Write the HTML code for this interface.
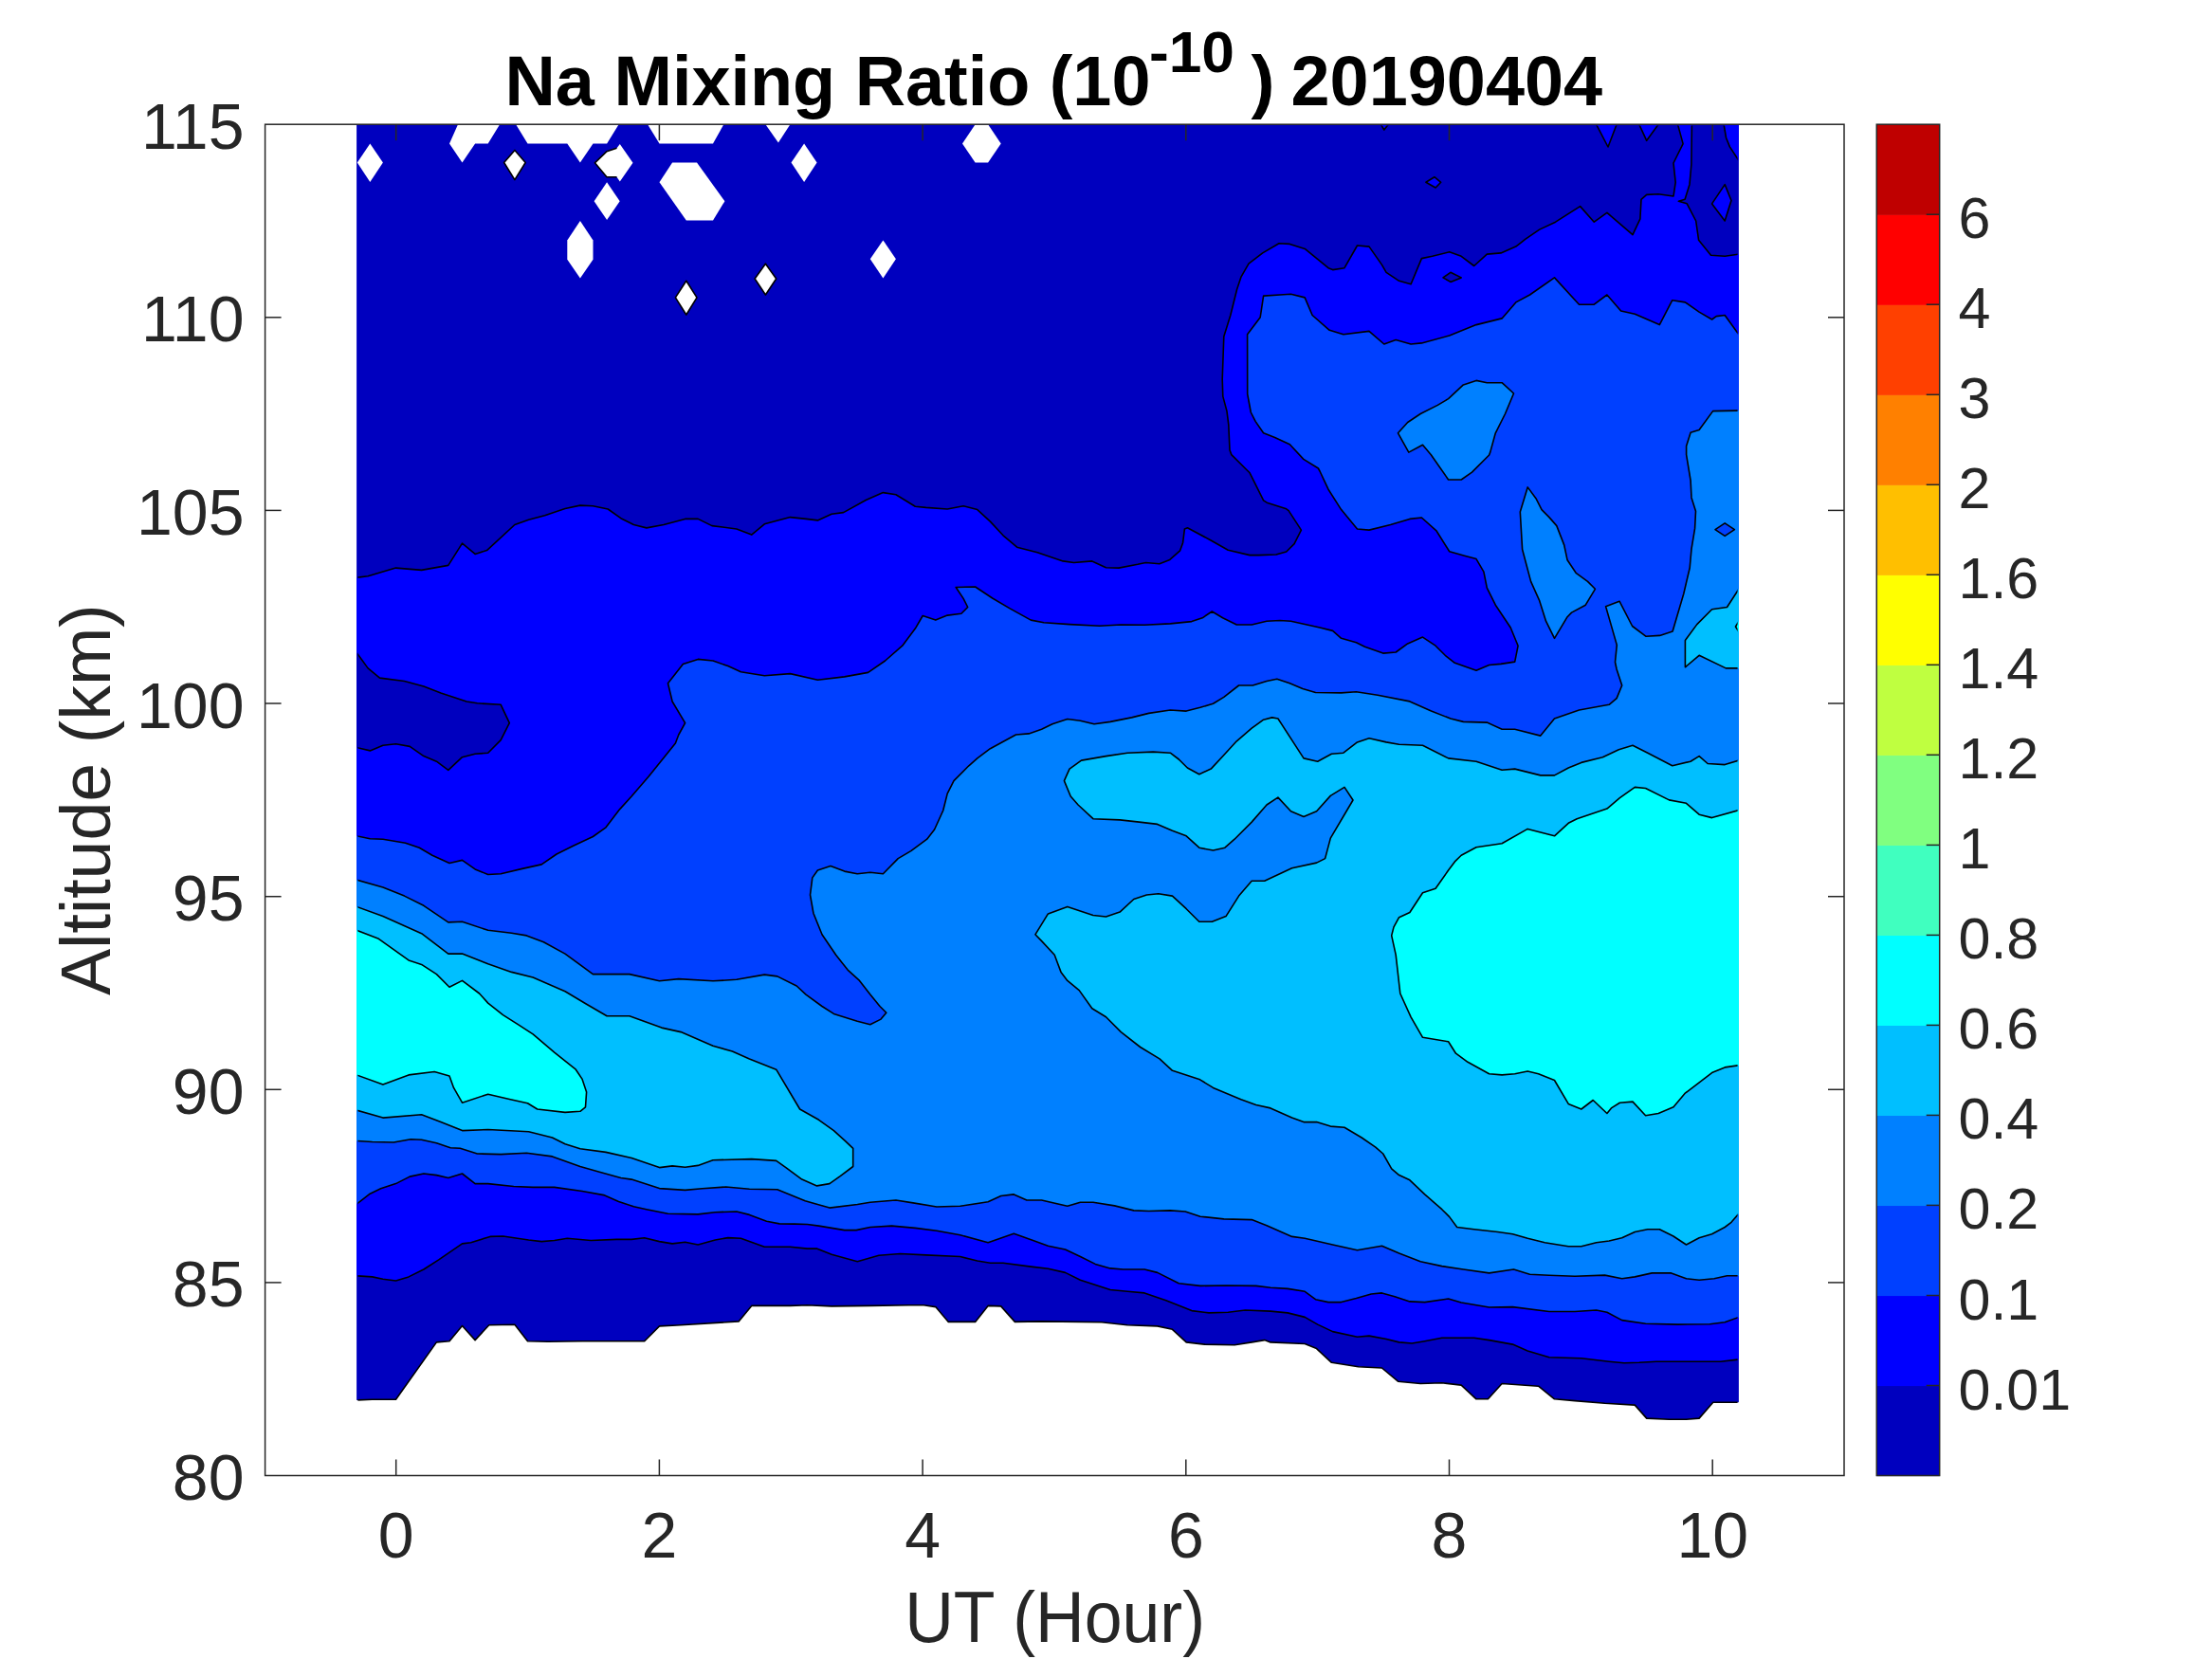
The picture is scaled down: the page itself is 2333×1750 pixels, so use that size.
<!DOCTYPE html>
<html><head><meta charset="utf-8"><style>
html,body{margin:0;padding:0;background:#fff;overflow:hidden;}
svg{display:block;}
text{font-family:"Liberation Sans",sans-serif;}
.tk{font-size:68px;fill:#262626;}
.lb{font-size:75px;fill:#262626;}
.tt{font-size:75px;font-weight:bold;fill:#000;}
.cb{font-size:61px;fill:#262626;}
.sup{font-size:58px;}
</style></head><body>
<svg width="2333" height="1750" viewBox="0 0 2333 1750">
<rect x="0" y="0" width="2333" height="1750" fill="#ffffff"/>
<defs><clipPath id="dc"><rect x="377.4" y="132.5" width="1455.2" height="1500"/></clipPath></defs>
<polygon points="376.1,131.2 1833.9,131.2 1833.9,1479.2 1806.8,1479.2 1792.1,1496.1 1778.5,1497.2 1760.4,1497.2 1736.7,1496.1 1724.3,1482.1 1692.6,1480.3 1661.0,1477.6 1639.5,1475.8 1622.6,1462.2 1584.1,1459.5 1569.4,1475.8 1557.0,1475.8 1541.2,1461.1 1520.8,1458.8 1498.2,1459.5 1474.5,1457.2 1457.5,1443.0 1432.7,1441.8 1404.4,1437.3 1388.6,1422.6 1376.2,1417.5 1340.0,1415.9 1333.7,1413.6 1320.2,1415.9 1302.1,1418.8 1270.4,1418.1 1251.2,1415.9 1236.5,1402.3 1220.7,1398.9 1189.1,1397.8 1161.9,1394.8 1098.6,1393.9 1070.4,1394.4 1055.7,1377.9 1042.1,1377.4 1028.6,1394.4 1000.3,1394.4 986.8,1378.6 974.3,1376.8 958.5,1376.8 917.8,1377.4 877.1,1377.9 851.5,1376.8 833.4,1377.4 792.7,1377.4 779.1,1393.9 713.6,1398.0 695.5,1398.9 679.7,1414.7 614.1,1414.7 578.0,1415.2 556.5,1414.7 542.9,1397.3 515.8,1397.8 501.1,1413.6 487.5,1398.5 474.0,1414.7 460.4,1415.9 417.5,1476.2 392.6,1476.2 376.1,1476.9" fill="#0000bf"/>
<polygon points="376.1,1345.8 392.6,1346.9 403.9,1349.2 417.5,1351.0 431.0,1346.9 446.9,1339.0 462.7,1328.8 487.5,1311.9 496.6,1310.8 516.9,1304.4 530.5,1304.0 557.6,1308.0 571.2,1309.6 584.7,1308.5 598.3,1306.2 623.2,1308.5 650.3,1307.4 666.1,1307.4 679.7,1305.8 695.5,1309.6 709.1,1311.9 722.6,1310.3 736.2,1313.0 754.3,1308.0 767.8,1305.6 781.4,1306.2 806.3,1315.3 833.4,1315.3 851.5,1317.1 861.3,1317.1 877.1,1323.2 904.3,1330.7 926.9,1324.3 949.5,1322.5 976.6,1323.9 1012.7,1325.5 1030.8,1330.0 1044.4,1332.2 1058.0,1332.2 1087.3,1336.1 1105.4,1338.3 1123.5,1342.4 1139.4,1350.3 1171.0,1360.5 1189.1,1362.3 1207.1,1363.9 1229.8,1371.8 1256.9,1382.6 1275.0,1384.9 1295.3,1384.2 1313.4,1382.0 1340.0,1383.1 1358.1,1384.9 1376.2,1389.4 1389.7,1397.1 1405.6,1404.6 1431.5,1410.2 1444.0,1409.1 1462.1,1412.5 1475.6,1415.9 1489.2,1417.0 1502.7,1414.7 1520.8,1411.3 1554.7,1411.3 1570.6,1413.6 1595.4,1418.1 1611.2,1424.9 1633.9,1431.7 1667.8,1432.8 1697.1,1436.2 1712.9,1437.8 1728.8,1437.3 1746.9,1436.2 1780.8,1436.2 1814.7,1436.2 1833.9,1434.0 1833.9,268.1 1819.2,270.3 1804.5,269.2 1791.6,253.3 1788.7,233.0 1779.1,214.7 1770.4,212.3 1777.1,210.3 1782.0,194.4 1783.9,173.2 1784.4,131.2 1769.5,131.2 1775.1,151.6 1765.0,172.0 1767.2,192.3 1765.0,207.0 1749.1,204.8 1736.7,205.4 1731.0,210.4 1729.9,230.8 1722.0,247.7 1694.9,224.4 1681.3,234.2 1666.6,217.6 1640.6,234.2 1623.7,242.1 1609.0,252.2 1598.8,260.1 1583.0,266.9 1568.3,268.1 1554.7,280.5 1541.2,270.3 1528.7,265.8 1510.7,270.3 1499.4,272.6 1488.1,299.7 1475.6,296.3 1462.1,287.3 1457.5,279.4 1444.0,260.1 1431.5,259.0 1418.0,282.7 1405.6,284.6 1401.0,282.7 1376.2,262.4 1360.3,257.4 1349.0,256.8 1331.7,266.9 1317.0,278.2 1309.1,291.8 1304.6,305.3 1297.8,332.5 1290.8,355.1 1289.2,400.0 1289.8,418.1 1294.0,433.8 1295.8,448.2 1297.0,474.7 1298.8,479.6 1314.5,495.2 1318.1,498.8 1332.6,527.8 1336.2,530.2 1356.7,536.8 1359.1,538.6 1372.4,559.1 1365.1,573.6 1356.7,582.0 1345.9,585.0 1327.8,585.6 1318.1,585.6 1295.2,580.2 1277.1,570.0 1252.4,556.7 1249.4,557.9 1247.6,572.4 1244.6,580.8 1233.8,590.4 1222.9,594.7 1208.4,593.5 1200.0,595.3 1180.0,599.1 1166.5,598.7 1151.8,591.9 1132.6,593.5 1121.2,591.9 1094.1,582.8 1072.6,577.2 1058.0,564.8 1044.4,550.1 1030.8,537.6 1016.1,533.8 999.2,537.0 976.6,535.4 965.3,534.3 944.9,521.8 931.4,519.6 913.3,527.5 889.6,540.6 877.1,542.2 862.4,548.9 850.0,547.4 833.4,545.6 806.3,552.8 792.7,564.1 776.9,558.0 750.9,554.6 736.2,547.4 722.6,547.4 700.0,553.5 681.9,556.9 668.4,553.5 654.8,546.7 641.2,537.0 625.4,533.8 611.9,533.1 596.0,536.5 574.6,543.7 557.6,548.3 542.9,553.5 513.5,580.6 501.1,584.4 487.5,573.1 472.8,596.4 444.6,601.4 417.5,599.1 388.1,607.7 376.1,609.3" fill="#0000ff"/>
<polygon points="1818.1,131.2 1820.5,145.2 1824.4,154.9 1833.9,169.4 1833.9,131.2" fill="#0000ff"/>
<polygon points="1456.4,131.2 1459.8,137.0 1464.3,131.2" fill="#0000ff"/>
<polygon points="1683.6,131.2 1696.0,155.0 1705.1,131.2" fill="#0000ff"/>
<polygon points="1728.8,131.2 1736.7,148.3 1749.1,131.2" fill="#0000ff"/>
<polygon points="1805.6,214.9 1819.2,194.6 1826.0,211.5 1819.2,233.0" fill="#0000ff"/>
<polygon points="1503.9,192.3 1512.9,186.7 1519.7,192.3 1514.1,198.0" fill="#0000ff"/>
<polygon points="376.1,688.4 388.1,704.9 400.5,715.1 426.5,718.5 446.9,724.1 464.9,730.9 492.1,740.0 503.4,741.8 528.2,743.3 537.3,762.6 528.2,780.6 514.7,794.2 501.1,795.3 487.5,798.7 472.8,812.3 460.4,803.2 446.9,797.6 432.2,787.4 417.5,784.7 403.9,786.3 390.3,791.9 376.1,788.5" fill="#0000bf"/>
<polygon points="1522.0,292.9 1529.9,287.3 1541.2,292.9 1529.9,297.4" fill="#0000bf"/>
<polygon points="376.1,881.8 390.3,884.8 403.9,885.2 427.6,889.3 442.3,894.2 455.9,902.2 474.0,910.5 487.5,907.4 501.1,916.9 514.7,922.5 528.2,921.8 550.8,916.4 571.2,911.9 587.0,901.0 605.1,892.0 625.4,882.5 639.0,872.8 653.7,853.6 666.1,840.0 684.2,819.1 712.4,784.0 715.8,775.0 722.6,762.6 709.1,740.0 704.5,720.7 720.4,700.4 736.2,695.4 752.0,697.0 767.8,702.6 781.4,708.8 806.3,712.8 833.4,710.6 862.4,717.3 890.7,713.9 915.6,709.4 933.6,697.0 951.7,681.2 965.3,663.1 973.2,649.5 986.8,654.1 999.2,649.1 1013.9,647.3 1020.7,640.5 1016.1,631.4 1008.2,619.5 1028.6,619.0 1046.7,631.0 1064.7,641.6 1087.3,654.1 1100.9,656.8 1128.0,658.6 1159.7,660.2 1182.3,659.0 1207.1,659.2 1234.3,657.9 1256.9,655.6 1268.2,651.8 1278.3,645.0 1289.6,651.8 1304.3,659.0 1320.2,659.0 1336.0,655.2 1350.0,654.5 1361.5,655.2 1392.0,662.0 1405.6,665.4 1414.6,673.3 1430.4,677.8 1439.5,682.3 1458.7,689.1 1472.2,688.0 1484.7,678.9 1500.5,672.1 1514.1,681.2 1524.2,691.3 1534.4,699.3 1557.0,707.2 1570.6,701.5 1583.0,700.4 1597.7,698.1 1601.1,681.2 1593.2,662.0 1577.3,638.2 1568.3,620.1 1564.9,603.2 1557.0,589.6 1544.6,586.2 1528.7,581.7 1515.2,560.2 1499.4,546.0 1486.9,547.4 1466.6,553.5 1444.0,559.1 1431.5,558.0 1414.6,537.6 1401.0,516.2 1392.0,497.0 1390.4,494.0 1374.8,484.4 1360.3,468.7 1344.6,461.5 1332.6,456.7 1324.2,444.6 1319.3,435.0 1315.7,415.7 1315.6,352.8 1329.2,334.7 1332.6,312.1 1350.0,311.0 1361.5,310.3 1376.2,313.9 1384.1,332.5 1402.2,348.3 1416.9,352.8 1444.0,349.4 1459.8,363.0 1472.2,358.5 1488.1,363.0 1499.4,361.9 1528.7,354.0 1557.0,342.6 1584.1,335.9 1598.8,318.9 1613.5,311.0 1639.5,292.9 1665.5,321.2 1681.3,321.2 1694.9,311.0 1709.6,328.0 1724.3,331.3 1750.3,342.6 1763.8,316.7 1777.4,318.9 1792.1,329.1 1805.6,337.0 1810.2,333.6 1819.2,332.5 1833.9,352.8 1833.9,1389.4 1819.2,1394.8 1803.4,1396.7 1769.5,1397.1 1735.6,1396.2 1710.7,1392.6 1694.9,1384.2 1683.6,1382.0 1661.0,1383.5 1633.9,1383.5 1595.4,1378.6 1570.6,1379.0 1541.2,1374.0 1527.6,1370.0 1502.7,1373.6 1486.9,1372.9 1471.1,1367.7 1457.5,1363.9 1446.2,1365.0 1430.4,1369.5 1414.6,1373.6 1401.0,1373.6 1387.5,1370.7 1376.2,1362.3 1358.1,1359.4 1340.0,1358.2 1324.7,1356.4 1293.0,1356.0 1265.9,1356.4 1243.3,1353.7 1220.7,1342.4 1207.1,1339.0 1184.6,1339.0 1171.0,1337.9 1155.2,1333.4 1139.4,1325.5 1123.5,1318.0 1105.4,1314.2 1089.6,1308.5 1069.3,1301.3 1042.1,1310.8 1012.7,1302.8 987.9,1298.3 965.3,1295.4 940.4,1293.1 917.8,1294.5 903.1,1297.6 890.7,1297.6 863.6,1293.1 851.5,1291.5 837.9,1291.1 822.1,1290.9 808.5,1288.2 790.4,1281.4 776.9,1278.0 754.3,1278.7 736.2,1280.9 704.5,1280.2 681.9,1275.7 668.4,1272.8 652.5,1267.4 636.7,1260.6 614.1,1256.5 584.7,1252.4 562.1,1252.4 541.8,1251.5 514.7,1248.6 501.1,1248.6 487.5,1238.0 472.8,1242.5 460.4,1239.6 446.9,1238.0 432.2,1241.1 417.5,1248.6 401.6,1253.8 390.3,1259.2 376.1,1270.1" fill="#0040ff"/>
<polygon points="1833.9,433.1 1806.6,433.6 1792.1,453.5 1783.1,456.2 1778.6,470.6 1778.6,479.7 1783.1,506.8 1784.0,524.9 1788.5,539.3 1787.6,557.4 1784.0,579.1 1782.2,599.0 1775.8,626.2 1764.1,665.9 1750.5,670.4 1736.1,671.3 1721.6,660.5 1708.0,634.2 1693.6,639.7 1705.3,680.4 1703.5,698.5 1705.1,706.0 1710.7,723.0 1705.1,736.6 1697.1,743.3 1665.5,749.0 1639.5,758.0 1624.8,776.1 1597.7,769.3 1584.1,769.3 1568.3,762.1 1543.4,761.4 1529.9,758.0 1509.5,750.1 1486.9,739.9 1453.0,733.2 1430.4,729.8 1414.6,730.9 1387.5,730.5 1373.9,726.4 1360.3,720.7 1346.8,716.2 1336.0,718.5 1321.3,723.0 1306.6,723.0 1290.8,735.4 1279.5,742.2 1265.9,746.3 1251.2,750.1 1234.3,749.0 1211.7,752.4 1193.6,756.9 1171.0,761.4 1154.0,763.7 1139.3,760.3 1125.8,758.5 1109.9,763.7 1098.6,769.3 1085.1,773.9 1071.5,775.0 1044.4,789.7 1030.8,799.9 1021.8,807.8 1006.0,823.6 999.2,837.1 994.7,855.0 985.6,875.0 977.7,885.2 960.8,897.6 947.2,905.6 931.4,921.8 917.8,920.2 904.2,921.8 890.7,919.1 876.0,913.5 862.4,918.0 856.8,925.9 854.5,944.0 857.9,963.2 867.0,985.8 881.6,1007.3 894.1,1023.1 906.5,1034.4 917.8,1049.1 928.0,1061.5 934.8,1068.3 929.1,1075.1 917.8,1080.7 904.2,1077.3 879.4,1069.4 867.0,1061.5 850.0,1049.1 840.2,1040.0 819.8,1029.9 806.3,1028.1 776.9,1033.3 752.0,1034.8 715.8,1032.6 695.5,1034.8 663.9,1027.6 625.4,1027.6 596.0,1006.1 573.4,993.7 555.4,986.9 539.5,984.2 514.7,981.3 487.5,972.2 472.8,972.9 446.9,955.3 426.5,945.1 403.9,936.1 376.1,928.2 376.1,1203.4 392.6,1204.5 415.2,1205.0 433.3,1201.8 444.6,1202.3 460.4,1205.7 475.1,1210.8 485.3,1211.3 503.4,1217.0 528.2,1217.6 555.4,1216.3 582.5,1219.9 611.9,1230.5 632.2,1236.2 654.8,1242.5 666.1,1244.1 695.5,1253.6 722.6,1255.4 740.7,1253.8 765.6,1252.0 790.4,1254.2 819.8,1254.7 849.2,1266.7 874.9,1274.1 904.3,1270.5 917.8,1268.3 944.9,1266.0 963.0,1268.9 987.9,1273.0 1012.7,1272.3 1042.1,1267.8 1055.7,1261.5 1069.3,1259.9 1082.9,1266.0 1098.6,1266.0 1125.8,1272.3 1139.4,1268.3 1152.9,1268.3 1175.5,1271.9 1195.8,1276.9 1211.7,1277.5 1234.3,1276.9 1250.1,1278.0 1265.9,1283.2 1290.8,1285.9 1320.2,1286.6 1336.0,1292.7 1362.6,1304.4 1376.2,1306.2 1405.6,1313.0 1431.5,1318.7 1457.5,1314.2 1475.6,1322.1 1498.2,1330.7 1520.8,1335.6 1543.4,1339.0 1570.6,1342.9 1596.5,1339.0 1613.5,1344.2 1633.9,1345.3 1661.0,1346.2 1692.6,1345.1 1710.7,1348.7 1724.3,1346.9 1742.3,1342.9 1762.7,1342.9 1778.5,1348.7 1792.1,1350.3 1807.9,1348.7 1821.5,1345.8 1833.9,1345.8" fill="#0080ff"/>
<polygon points="1474.5,456.8 1484.7,445.5 1498.2,436.5 1516.3,427.4 1527.6,420.6 1543.4,405.9 1557.0,401.4 1568.3,403.7 1584.1,403.7 1596.5,415.0 1587.5,436.5 1577.3,456.8 1571.7,477.1 1570.6,480.0 1552.5,498.1 1541.2,506.0 1527.6,506.0 1509.5,480.0 1500.5,469.3 1485.8,477.1" fill="#0080ff"/>
<polygon points="1611.2,513.9 1603.3,539.9 1605.6,579.5 1614.6,613.4 1623.7,633.7 1630.5,655.2 1639.5,673.3 1653.1,650.7 1657.6,646.1 1672.3,638.2 1682.4,621.3 1674.5,613.4 1662.1,604.3 1653.1,590.8 1649.7,574.9 1641.8,554.6 1633.9,545.6 1626.0,537.6 1620.3,526.3" fill="#0080ff"/>
<polygon points="1809.0,558.7 1819.2,551.9 1829.4,558.7 1819.2,565.4" fill="#0040ff"/>
<polygon points="376.1,956.4 403.9,966.6 444.6,984.7 472.8,1006.1 487.5,1006.1 514.7,1016.8 539.5,1025.4 562.1,1031.0 596.0,1045.7 618.6,1059.3 640.1,1071.7 663.9,1071.7 697.8,1084.1 718.1,1088.6 752.0,1103.3 772.4,1109.0 790.4,1116.9 818.7,1128.2 843.6,1170.0 863.6,1181.3 879.4,1192.6 891.8,1203.9 899.7,1211.3 899.7,1230.5 886.2,1240.7 874.9,1248.6 861.6,1250.9 845.8,1244.1 828.9,1231.6 818.7,1224.4 792.7,1222.6 752.0,1223.7 736.2,1229.4 722.6,1231.2 709.1,1229.9 695.5,1231.6 666.1,1221.5 639.0,1215.4 611.9,1211.8 596.0,1206.8 582.5,1200.0 557.6,1193.8 514.7,1191.5 487.5,1192.6 464.9,1183.6 444.6,1175.7 403.9,1179.1 376.1,1171.1" fill="#00bfff"/>
<polygon points="1122.4,823.6 1128.0,811.1 1140.5,802.1 1166.5,797.6 1189.1,794.2 1216.2,793.1 1234.3,794.2 1243.3,801.0 1252.4,810.0 1264.8,816.8 1277.2,811.1 1290.8,796.5 1304.3,781.8 1320.2,768.2 1332.6,759.2 1341.6,756.9 1347.9,758.0 1375.0,799.9 1389.7,803.2 1404.4,795.3 1416.9,794.2 1431.5,782.9 1444.0,778.8 1462.1,782.9 1475.6,785.2 1500.5,786.3 1527.6,799.9 1557.0,803.2 1584.1,812.3 1597.7,811.1 1624.8,817.9 1639.5,817.9 1654.2,810.0 1667.8,804.4 1690.4,798.7 1707.3,790.8 1722.0,786.3 1737.8,794.2 1763.8,807.8 1783.0,803.2 1792.1,797.6 1801.1,805.5 1819.2,806.6 1833.9,802.1 1833.9,1280.2 1826.0,1289.3 1819.2,1294.5 1805.6,1301.7 1792.1,1305.8 1778.5,1313.0 1764.9,1304.0 1750.3,1296.7 1737.8,1296.7 1724.3,1299.5 1710.7,1305.8 1697.1,1309.0 1683.6,1310.8 1667.8,1314.8 1654.2,1314.8 1629.3,1310.8 1611.2,1306.2 1595.4,1301.7 1579.6,1299.5 1554.7,1296.7 1536.7,1294.5 1528.7,1283.6 1520.8,1275.7 1502.7,1259.9 1486.9,1244.8 1475.6,1239.6 1467.7,1232.8 1458.7,1217.0 1450.8,1210.2 1436.1,1200.0 1418.0,1189.2 1403.3,1188.1 1388.6,1183.6 1375.0,1183.6 1362.6,1179.1 1340.0,1168.9 1324.7,1165.5 1308.9,1159.8 1279.5,1147.4 1264.8,1138.4 1236.5,1129.3 1223.0,1116.9 1202.6,1104.5 1182.3,1088.6 1166.5,1072.8 1151.8,1063.8 1138.2,1044.6 1125.8,1034.4 1119.0,1025.4 1112.2,1007.3 1098.6,992.6 1091.9,985.8 1105.4,963.9 1125.8,956.4 1152.9,965.5 1166.5,967.0 1181.1,962.1 1195.8,948.5 1209.4,944.0 1221.8,942.8 1236.5,945.1 1251.2,958.7 1264.8,972.2 1278.3,972.2 1293.0,966.6 1306.6,945.1 1320.2,929.3 1333.7,929.3 1362.6,915.7 1388.6,910.1 1397.6,905.6 1403.3,884.1 1427.0,844.0 1418.0,830.4 1403.3,839.4 1388.6,855.8 1375.0,861.5 1361.5,855.8 1347.9,841.1 1336.0,849.0 1320.2,867.1 1302.1,885.2 1291.9,894.2 1279.5,897.0 1264.8,894.2 1251.2,881.8 1236.5,876.2 1220.7,869.4 1201.5,867.1 1181.1,864.9 1152.9,863.7 1137.1,849.0 1129.2,840.0" fill="#00bfff"/>
<polygon points="1833.9,621.3 1821.5,640.5 1805.6,642.7 1789.8,658.6 1777.4,675.5 1777.4,703.8 1792.1,691.3 1820.3,704.9 1833.9,704.9" fill="#00bfff"/>
<polygon points="376.1,981.3 399.4,990.3 431.0,1012.9 444.6,1017.4 460.4,1027.6 474.0,1041.2 487.5,1034.4 505.6,1048.0 514.7,1058.1 530.5,1070.6 546.3,1080.7 562.1,1090.9 584.7,1110.1 607.3,1128.2 614.1,1138.4 618.6,1151.9 617.5,1167.8 611.9,1172.3 596.0,1173.4 566.7,1170.0 556.5,1163.7 538.4,1159.8 514.7,1154.2 487.5,1163.2 478.5,1147.4 474.0,1135.0 458.2,1130.5 431.0,1133.9 403.9,1144.0 376.1,1133.9" fill="#00ffff"/>
<polygon points="1724.3,830.4 1708.4,841.7 1694.9,853.1 1663.2,863.7 1654.2,868.3 1639.5,881.8 1611.2,874.4 1584.1,889.7 1557.0,893.8 1541.2,902.2 1534.4,908.9 1527.6,918.0 1514.1,937.2 1500.5,941.7 1486.9,962.5 1475.6,967.7 1470.0,977.9 1467.7,986.9 1472.2,1007.3 1476.8,1048.0 1488.1,1072.8 1500.5,1094.3 1527.6,1098.8 1535.5,1111.2 1548.0,1120.3 1570.6,1132.7 1584.1,1133.9 1597.7,1132.7 1611.2,1130.0 1622.6,1132.7 1639.5,1139.5 1654.2,1164.4 1667.8,1170.0 1680.2,1160.5 1694.9,1174.5 1699.4,1168.9 1708.4,1163.2 1722.0,1162.1 1735.6,1176.8 1749.1,1174.5 1765.0,1167.8 1777.4,1153.1 1805.6,1131.6 1819.2,1125.9 1833.9,1123.7 1833.9,854.7 1805.6,862.6 1792.1,859.2 1778.5,847.3 1760.4,843.9 1735.6,831.5" fill="#00ffff"/>
<polygon points="1834.0,655.5 1830.5,661.0 1834.0,666.5" fill="#00ffff"/>
<polygon points="483.0,131.2 474.0,151.6 487.5,171.5 501.1,151.6 514.7,151.6 527.1,131.2" fill="#fff"/>
<polygon points="544.1,131.2 556.5,151.6 598.3,151.6 611.9,171.5 625.5,151.6 640.1,151.6 652.6,131.2" fill="#fff"/>
<polygon points="683.1,131.2 695.5,151.6 752.0,151.6 763.3,131.2" fill="#fff"/>
<polygon points="807.4,131.2 820.9,150.5 833.4,131.2" fill="#fff"/>
<polygon points="376.8,171.5 390.3,151.6 403.9,171.5 390.3,191.9" fill="#fff"/>
<polygon points="627.4,171.8 640.0,159.7 650.5,156.3 653.8,151.9 667.5,171.8 653.8,191.4 650.5,186.7 640.0,186.7" fill="#fff"/>
<polygon points="626.6,212.2 640.1,192.3 653.7,212.2 640.1,231.9" fill="#fff"/>
<polygon points="695.5,192.3 709.1,171.5 735.0,171.5 764.4,212.2 752.0,232.6 723.8,232.6" fill="#fff"/>
<polygon points="598.3,253.4 611.9,233.0 625.5,253.4 625.5,273.7 611.9,293.6 598.3,273.7" fill="#fff"/>
<polygon points="834.5,171.5 848.1,151.6 861.6,171.5 848.1,191.9" fill="#fff"/>
<polygon points="1015.0,151.6 1028.6,131.2 1042.1,131.2 1055.7,151.6 1042.1,171.5 1028.6,171.5" fill="#fff"/>
<polygon points="917.8,273.3 931.4,253.4 944.9,273.3 931.4,293.6" fill="#fff"/>
<polygon points="531.6,171.5 542.9,158.4 554.2,171.5 542.9,189.6" fill="#fff"/>
<polygon points="712.4,313.9 723.8,296.3 735.0,313.9 723.8,332.0" fill="#fff"/>
<polygon points="796.1,294.0 807.4,278.2 818.7,294.0 807.4,311.0" fill="#fff"/>
<g clip-path="url(#dc)" fill="none" stroke="#000" stroke-width="1.6" stroke-linejoin="round">
<polygon points="376.1,131.2 1833.9,131.2 1833.9,1479.2 1806.8,1479.2 1792.1,1496.1 1778.5,1497.2 1760.4,1497.2 1736.7,1496.1 1724.3,1482.1 1692.6,1480.3 1661.0,1477.6 1639.5,1475.8 1622.6,1462.2 1584.1,1459.5 1569.4,1475.8 1557.0,1475.8 1541.2,1461.1 1520.8,1458.8 1498.2,1459.5 1474.5,1457.2 1457.5,1443.0 1432.7,1441.8 1404.4,1437.3 1388.6,1422.6 1376.2,1417.5 1340.0,1415.9 1333.7,1413.6 1320.2,1415.9 1302.1,1418.8 1270.4,1418.1 1251.2,1415.9 1236.5,1402.3 1220.7,1398.9 1189.1,1397.8 1161.9,1394.8 1098.6,1393.9 1070.4,1394.4 1055.7,1377.9 1042.1,1377.4 1028.6,1394.4 1000.3,1394.4 986.8,1378.6 974.3,1376.8 958.5,1376.8 917.8,1377.4 877.1,1377.9 851.5,1376.8 833.4,1377.4 792.7,1377.4 779.1,1393.9 713.6,1398.0 695.5,1398.9 679.7,1414.7 614.1,1414.7 578.0,1415.2 556.5,1414.7 542.9,1397.3 515.8,1397.8 501.1,1413.6 487.5,1398.5 474.0,1414.7 460.4,1415.9 417.5,1476.2 392.6,1476.2 376.1,1476.9"/>
<polygon points="376.1,1345.8 392.6,1346.9 403.9,1349.2 417.5,1351.0 431.0,1346.9 446.9,1339.0 462.7,1328.8 487.5,1311.9 496.6,1310.8 516.9,1304.4 530.5,1304.0 557.6,1308.0 571.2,1309.6 584.7,1308.5 598.3,1306.2 623.2,1308.5 650.3,1307.4 666.1,1307.4 679.7,1305.8 695.5,1309.6 709.1,1311.9 722.6,1310.3 736.2,1313.0 754.3,1308.0 767.8,1305.6 781.4,1306.2 806.3,1315.3 833.4,1315.3 851.5,1317.1 861.3,1317.1 877.1,1323.2 904.3,1330.7 926.9,1324.3 949.5,1322.5 976.6,1323.9 1012.7,1325.5 1030.8,1330.0 1044.4,1332.2 1058.0,1332.2 1087.3,1336.1 1105.4,1338.3 1123.5,1342.4 1139.4,1350.3 1171.0,1360.5 1189.1,1362.3 1207.1,1363.9 1229.8,1371.8 1256.9,1382.6 1275.0,1384.9 1295.3,1384.2 1313.4,1382.0 1340.0,1383.1 1358.1,1384.9 1376.2,1389.4 1389.7,1397.1 1405.6,1404.6 1431.5,1410.2 1444.0,1409.1 1462.1,1412.5 1475.6,1415.9 1489.2,1417.0 1502.7,1414.7 1520.8,1411.3 1554.7,1411.3 1570.6,1413.6 1595.4,1418.1 1611.2,1424.9 1633.9,1431.7 1667.8,1432.8 1697.1,1436.2 1712.9,1437.8 1728.8,1437.3 1746.9,1436.2 1780.8,1436.2 1814.7,1436.2 1833.9,1434.0 1833.9,268.1 1819.2,270.3 1804.5,269.2 1791.6,253.3 1788.7,233.0 1779.1,214.7 1770.4,212.3 1777.1,210.3 1782.0,194.4 1783.9,173.2 1784.4,131.2 1769.5,131.2 1775.1,151.6 1765.0,172.0 1767.2,192.3 1765.0,207.0 1749.1,204.8 1736.7,205.4 1731.0,210.4 1729.9,230.8 1722.0,247.7 1694.9,224.4 1681.3,234.2 1666.6,217.6 1640.6,234.2 1623.7,242.1 1609.0,252.2 1598.8,260.1 1583.0,266.9 1568.3,268.1 1554.7,280.5 1541.2,270.3 1528.7,265.8 1510.7,270.3 1499.4,272.6 1488.1,299.7 1475.6,296.3 1462.1,287.3 1457.5,279.4 1444.0,260.1 1431.5,259.0 1418.0,282.7 1405.6,284.6 1401.0,282.7 1376.2,262.4 1360.3,257.4 1349.0,256.8 1331.7,266.9 1317.0,278.2 1309.1,291.8 1304.6,305.3 1297.8,332.5 1290.8,355.1 1289.2,400.0 1289.8,418.1 1294.0,433.8 1295.8,448.2 1297.0,474.7 1298.8,479.6 1314.5,495.2 1318.1,498.8 1332.6,527.8 1336.2,530.2 1356.7,536.8 1359.1,538.6 1372.4,559.1 1365.1,573.6 1356.7,582.0 1345.9,585.0 1327.8,585.6 1318.1,585.6 1295.2,580.2 1277.1,570.0 1252.4,556.7 1249.4,557.9 1247.6,572.4 1244.6,580.8 1233.8,590.4 1222.9,594.7 1208.4,593.5 1200.0,595.3 1180.0,599.1 1166.5,598.7 1151.8,591.9 1132.6,593.5 1121.2,591.9 1094.1,582.8 1072.6,577.2 1058.0,564.8 1044.4,550.1 1030.8,537.6 1016.1,533.8 999.2,537.0 976.6,535.4 965.3,534.3 944.9,521.8 931.4,519.6 913.3,527.5 889.6,540.6 877.1,542.2 862.4,548.9 850.0,547.4 833.4,545.6 806.3,552.8 792.7,564.1 776.9,558.0 750.9,554.6 736.2,547.4 722.6,547.4 700.0,553.5 681.9,556.9 668.4,553.5 654.8,546.7 641.2,537.0 625.4,533.8 611.9,533.1 596.0,536.5 574.6,543.7 557.6,548.3 542.9,553.5 513.5,580.6 501.1,584.4 487.5,573.1 472.8,596.4 444.6,601.4 417.5,599.1 388.1,607.7 376.1,609.3"/>
<polygon points="1818.1,131.2 1820.5,145.2 1824.4,154.9 1833.9,169.4 1833.9,131.2"/>
<polygon points="1456.4,131.2 1459.8,137.0 1464.3,131.2"/>
<polygon points="1683.6,131.2 1696.0,155.0 1705.1,131.2"/>
<polygon points="1728.8,131.2 1736.7,148.3 1749.1,131.2"/>
<polygon points="1805.6,214.9 1819.2,194.6 1826.0,211.5 1819.2,233.0"/>
<polygon points="1503.9,192.3 1512.9,186.7 1519.7,192.3 1514.1,198.0"/>
<polygon points="376.1,688.4 388.1,704.9 400.5,715.1 426.5,718.5 446.9,724.1 464.9,730.9 492.1,740.0 503.4,741.8 528.2,743.3 537.3,762.6 528.2,780.6 514.7,794.2 501.1,795.3 487.5,798.7 472.8,812.3 460.4,803.2 446.9,797.6 432.2,787.4 417.5,784.7 403.9,786.3 390.3,791.9 376.1,788.5"/>
<polygon points="1522.0,292.9 1529.9,287.3 1541.2,292.9 1529.9,297.4"/>
<polygon points="376.1,881.8 390.3,884.8 403.9,885.2 427.6,889.3 442.3,894.2 455.9,902.2 474.0,910.5 487.5,907.4 501.1,916.9 514.7,922.5 528.2,921.8 550.8,916.4 571.2,911.9 587.0,901.0 605.1,892.0 625.4,882.5 639.0,872.8 653.7,853.6 666.1,840.0 684.2,819.1 712.4,784.0 715.8,775.0 722.6,762.6 709.1,740.0 704.5,720.7 720.4,700.4 736.2,695.4 752.0,697.0 767.8,702.6 781.4,708.8 806.3,712.8 833.4,710.6 862.4,717.3 890.7,713.9 915.6,709.4 933.6,697.0 951.7,681.2 965.3,663.1 973.2,649.5 986.8,654.1 999.2,649.1 1013.9,647.3 1020.7,640.5 1016.1,631.4 1008.2,619.5 1028.6,619.0 1046.7,631.0 1064.7,641.6 1087.3,654.1 1100.9,656.8 1128.0,658.6 1159.7,660.2 1182.3,659.0 1207.1,659.2 1234.3,657.9 1256.9,655.6 1268.2,651.8 1278.3,645.0 1289.6,651.8 1304.3,659.0 1320.2,659.0 1336.0,655.2 1350.0,654.5 1361.5,655.2 1392.0,662.0 1405.6,665.4 1414.6,673.3 1430.4,677.8 1439.5,682.3 1458.7,689.1 1472.2,688.0 1484.7,678.9 1500.5,672.1 1514.1,681.2 1524.2,691.3 1534.4,699.3 1557.0,707.2 1570.6,701.5 1583.0,700.4 1597.7,698.1 1601.1,681.2 1593.2,662.0 1577.3,638.2 1568.3,620.1 1564.9,603.2 1557.0,589.6 1544.6,586.2 1528.7,581.7 1515.2,560.2 1499.4,546.0 1486.9,547.4 1466.6,553.5 1444.0,559.1 1431.5,558.0 1414.6,537.6 1401.0,516.2 1392.0,497.0 1390.4,494.0 1374.8,484.4 1360.3,468.7 1344.6,461.5 1332.6,456.7 1324.2,444.6 1319.3,435.0 1315.7,415.7 1315.6,352.8 1329.2,334.7 1332.6,312.1 1350.0,311.0 1361.5,310.3 1376.2,313.9 1384.1,332.5 1402.2,348.3 1416.9,352.8 1444.0,349.4 1459.8,363.0 1472.2,358.5 1488.1,363.0 1499.4,361.9 1528.7,354.0 1557.0,342.6 1584.1,335.9 1598.8,318.9 1613.5,311.0 1639.5,292.9 1665.5,321.2 1681.3,321.2 1694.9,311.0 1709.6,328.0 1724.3,331.3 1750.3,342.6 1763.8,316.7 1777.4,318.9 1792.1,329.1 1805.6,337.0 1810.2,333.6 1819.2,332.5 1833.9,352.8 1833.9,1389.4 1819.2,1394.8 1803.4,1396.7 1769.5,1397.1 1735.6,1396.2 1710.7,1392.6 1694.9,1384.2 1683.6,1382.0 1661.0,1383.5 1633.9,1383.5 1595.4,1378.6 1570.6,1379.0 1541.2,1374.0 1527.6,1370.0 1502.7,1373.6 1486.9,1372.9 1471.1,1367.7 1457.5,1363.9 1446.2,1365.0 1430.4,1369.5 1414.6,1373.6 1401.0,1373.6 1387.5,1370.7 1376.2,1362.3 1358.1,1359.4 1340.0,1358.2 1324.7,1356.4 1293.0,1356.0 1265.9,1356.4 1243.3,1353.7 1220.7,1342.4 1207.1,1339.0 1184.6,1339.0 1171.0,1337.9 1155.2,1333.4 1139.4,1325.5 1123.5,1318.0 1105.4,1314.2 1089.6,1308.5 1069.3,1301.3 1042.1,1310.8 1012.7,1302.8 987.9,1298.3 965.3,1295.4 940.4,1293.1 917.8,1294.5 903.1,1297.6 890.7,1297.6 863.6,1293.1 851.5,1291.5 837.9,1291.1 822.1,1290.9 808.5,1288.2 790.4,1281.4 776.9,1278.0 754.3,1278.7 736.2,1280.9 704.5,1280.2 681.9,1275.7 668.4,1272.8 652.5,1267.4 636.7,1260.6 614.1,1256.5 584.7,1252.4 562.1,1252.4 541.8,1251.5 514.7,1248.6 501.1,1248.6 487.5,1238.0 472.8,1242.5 460.4,1239.6 446.9,1238.0 432.2,1241.1 417.5,1248.6 401.6,1253.8 390.3,1259.2 376.1,1270.1"/>
<polygon points="1833.9,433.1 1806.6,433.6 1792.1,453.5 1783.1,456.2 1778.6,470.6 1778.6,479.7 1783.1,506.8 1784.0,524.9 1788.5,539.3 1787.6,557.4 1784.0,579.1 1782.2,599.0 1775.8,626.2 1764.1,665.9 1750.5,670.4 1736.1,671.3 1721.6,660.5 1708.0,634.2 1693.6,639.7 1705.3,680.4 1703.5,698.5 1705.1,706.0 1710.7,723.0 1705.1,736.6 1697.1,743.3 1665.5,749.0 1639.5,758.0 1624.8,776.1 1597.7,769.3 1584.1,769.3 1568.3,762.1 1543.4,761.4 1529.9,758.0 1509.5,750.1 1486.9,739.9 1453.0,733.2 1430.4,729.8 1414.6,730.9 1387.5,730.5 1373.9,726.4 1360.3,720.7 1346.8,716.2 1336.0,718.5 1321.3,723.0 1306.6,723.0 1290.8,735.4 1279.5,742.2 1265.9,746.3 1251.2,750.1 1234.3,749.0 1211.7,752.4 1193.6,756.9 1171.0,761.4 1154.0,763.7 1139.3,760.3 1125.8,758.5 1109.9,763.7 1098.6,769.3 1085.1,773.9 1071.5,775.0 1044.4,789.7 1030.8,799.9 1021.8,807.8 1006.0,823.6 999.2,837.1 994.7,855.0 985.6,875.0 977.7,885.2 960.8,897.6 947.2,905.6 931.4,921.8 917.8,920.2 904.2,921.8 890.7,919.1 876.0,913.5 862.4,918.0 856.8,925.9 854.5,944.0 857.9,963.2 867.0,985.8 881.6,1007.3 894.1,1023.1 906.5,1034.4 917.8,1049.1 928.0,1061.5 934.8,1068.3 929.1,1075.1 917.8,1080.7 904.2,1077.3 879.4,1069.4 867.0,1061.5 850.0,1049.1 840.2,1040.0 819.8,1029.9 806.3,1028.1 776.9,1033.3 752.0,1034.8 715.8,1032.6 695.5,1034.8 663.9,1027.6 625.4,1027.6 596.0,1006.1 573.4,993.7 555.4,986.9 539.5,984.2 514.7,981.3 487.5,972.2 472.8,972.9 446.9,955.3 426.5,945.1 403.9,936.1 376.1,928.2 376.1,1203.4 392.6,1204.5 415.2,1205.0 433.3,1201.8 444.6,1202.3 460.4,1205.7 475.1,1210.8 485.3,1211.3 503.4,1217.0 528.2,1217.6 555.4,1216.3 582.5,1219.9 611.9,1230.5 632.2,1236.2 654.8,1242.5 666.1,1244.1 695.5,1253.6 722.6,1255.4 740.7,1253.8 765.6,1252.0 790.4,1254.2 819.8,1254.7 849.2,1266.7 874.9,1274.1 904.3,1270.5 917.8,1268.3 944.9,1266.0 963.0,1268.9 987.9,1273.0 1012.7,1272.3 1042.1,1267.8 1055.7,1261.5 1069.3,1259.9 1082.9,1266.0 1098.6,1266.0 1125.8,1272.3 1139.4,1268.3 1152.9,1268.3 1175.5,1271.9 1195.8,1276.9 1211.7,1277.5 1234.3,1276.9 1250.1,1278.0 1265.9,1283.2 1290.8,1285.9 1320.2,1286.6 1336.0,1292.7 1362.6,1304.4 1376.2,1306.2 1405.6,1313.0 1431.5,1318.7 1457.5,1314.2 1475.6,1322.1 1498.2,1330.7 1520.8,1335.6 1543.4,1339.0 1570.6,1342.9 1596.5,1339.0 1613.5,1344.2 1633.9,1345.3 1661.0,1346.2 1692.6,1345.1 1710.7,1348.7 1724.3,1346.9 1742.3,1342.9 1762.7,1342.9 1778.5,1348.7 1792.1,1350.3 1807.9,1348.7 1821.5,1345.8 1833.9,1345.8"/>
<polygon points="1474.5,456.8 1484.7,445.5 1498.2,436.5 1516.3,427.4 1527.6,420.6 1543.4,405.9 1557.0,401.4 1568.3,403.7 1584.1,403.7 1596.5,415.0 1587.5,436.5 1577.3,456.8 1571.7,477.1 1570.6,480.0 1552.5,498.1 1541.2,506.0 1527.6,506.0 1509.5,480.0 1500.5,469.3 1485.8,477.1"/>
<polygon points="1611.2,513.9 1603.3,539.9 1605.6,579.5 1614.6,613.4 1623.7,633.7 1630.5,655.2 1639.5,673.3 1653.1,650.7 1657.6,646.1 1672.3,638.2 1682.4,621.3 1674.5,613.4 1662.1,604.3 1653.1,590.8 1649.7,574.9 1641.8,554.6 1633.9,545.6 1626.0,537.6 1620.3,526.3"/>
<polygon points="1809.0,558.7 1819.2,551.9 1829.4,558.7 1819.2,565.4"/>
<polygon points="376.1,956.4 403.9,966.6 444.6,984.7 472.8,1006.1 487.5,1006.1 514.7,1016.8 539.5,1025.4 562.1,1031.0 596.0,1045.7 618.6,1059.3 640.1,1071.7 663.9,1071.7 697.8,1084.1 718.1,1088.6 752.0,1103.3 772.4,1109.0 790.4,1116.9 818.7,1128.2 843.6,1170.0 863.6,1181.3 879.4,1192.6 891.8,1203.9 899.7,1211.3 899.7,1230.5 886.2,1240.7 874.9,1248.6 861.6,1250.9 845.8,1244.1 828.9,1231.6 818.7,1224.4 792.7,1222.6 752.0,1223.7 736.2,1229.4 722.6,1231.2 709.1,1229.9 695.5,1231.6 666.1,1221.5 639.0,1215.4 611.9,1211.8 596.0,1206.8 582.5,1200.0 557.6,1193.8 514.7,1191.5 487.5,1192.6 464.9,1183.6 444.6,1175.7 403.9,1179.1 376.1,1171.1"/>
<polygon points="1122.4,823.6 1128.0,811.1 1140.5,802.1 1166.5,797.6 1189.1,794.2 1216.2,793.1 1234.3,794.2 1243.3,801.0 1252.4,810.0 1264.8,816.8 1277.2,811.1 1290.8,796.5 1304.3,781.8 1320.2,768.2 1332.6,759.2 1341.6,756.9 1347.9,758.0 1375.0,799.9 1389.7,803.2 1404.4,795.3 1416.9,794.2 1431.5,782.9 1444.0,778.8 1462.1,782.9 1475.6,785.2 1500.5,786.3 1527.6,799.9 1557.0,803.2 1584.1,812.3 1597.7,811.1 1624.8,817.9 1639.5,817.9 1654.2,810.0 1667.8,804.4 1690.4,798.7 1707.3,790.8 1722.0,786.3 1737.8,794.2 1763.8,807.8 1783.0,803.2 1792.1,797.6 1801.1,805.5 1819.2,806.6 1833.9,802.1 1833.9,1280.2 1826.0,1289.3 1819.2,1294.5 1805.6,1301.7 1792.1,1305.8 1778.5,1313.0 1764.9,1304.0 1750.3,1296.7 1737.8,1296.7 1724.3,1299.5 1710.7,1305.8 1697.1,1309.0 1683.6,1310.8 1667.8,1314.8 1654.2,1314.8 1629.3,1310.8 1611.2,1306.2 1595.4,1301.7 1579.6,1299.5 1554.7,1296.7 1536.7,1294.5 1528.7,1283.6 1520.8,1275.7 1502.7,1259.9 1486.9,1244.8 1475.6,1239.6 1467.7,1232.8 1458.7,1217.0 1450.8,1210.2 1436.1,1200.0 1418.0,1189.2 1403.3,1188.1 1388.6,1183.6 1375.0,1183.6 1362.6,1179.1 1340.0,1168.9 1324.7,1165.5 1308.9,1159.8 1279.5,1147.4 1264.8,1138.4 1236.5,1129.3 1223.0,1116.9 1202.6,1104.5 1182.3,1088.6 1166.5,1072.8 1151.8,1063.8 1138.2,1044.6 1125.8,1034.4 1119.0,1025.4 1112.2,1007.3 1098.6,992.6 1091.9,985.8 1105.4,963.9 1125.8,956.4 1152.9,965.5 1166.5,967.0 1181.1,962.1 1195.8,948.5 1209.4,944.0 1221.8,942.8 1236.5,945.1 1251.2,958.7 1264.8,972.2 1278.3,972.2 1293.0,966.6 1306.6,945.1 1320.2,929.3 1333.7,929.3 1362.6,915.7 1388.6,910.1 1397.6,905.6 1403.3,884.1 1427.0,844.0 1418.0,830.4 1403.3,839.4 1388.6,855.8 1375.0,861.5 1361.5,855.8 1347.9,841.1 1336.0,849.0 1320.2,867.1 1302.1,885.2 1291.9,894.2 1279.5,897.0 1264.8,894.2 1251.2,881.8 1236.5,876.2 1220.7,869.4 1201.5,867.1 1181.1,864.9 1152.9,863.7 1137.1,849.0 1129.2,840.0"/>
<polygon points="1833.9,621.3 1821.5,640.5 1805.6,642.7 1789.8,658.6 1777.4,675.5 1777.4,703.8 1792.1,691.3 1820.3,704.9 1833.9,704.9"/>
<polygon points="376.1,981.3 399.4,990.3 431.0,1012.9 444.6,1017.4 460.4,1027.6 474.0,1041.2 487.5,1034.4 505.6,1048.0 514.7,1058.1 530.5,1070.6 546.3,1080.7 562.1,1090.9 584.7,1110.1 607.3,1128.2 614.1,1138.4 618.6,1151.9 617.5,1167.8 611.9,1172.3 596.0,1173.4 566.7,1170.0 556.5,1163.7 538.4,1159.8 514.7,1154.2 487.5,1163.2 478.5,1147.4 474.0,1135.0 458.2,1130.5 431.0,1133.9 403.9,1144.0 376.1,1133.9"/>
<polygon points="1724.3,830.4 1708.4,841.7 1694.9,853.1 1663.2,863.7 1654.2,868.3 1639.5,881.8 1611.2,874.4 1584.1,889.7 1557.0,893.8 1541.2,902.2 1534.4,908.9 1527.6,918.0 1514.1,937.2 1500.5,941.7 1486.9,962.5 1475.6,967.7 1470.0,977.9 1467.7,986.9 1472.2,1007.3 1476.8,1048.0 1488.1,1072.8 1500.5,1094.3 1527.6,1098.8 1535.5,1111.2 1548.0,1120.3 1570.6,1132.7 1584.1,1133.9 1597.7,1132.7 1611.2,1130.0 1622.6,1132.7 1639.5,1139.5 1654.2,1164.4 1667.8,1170.0 1680.2,1160.5 1694.9,1174.5 1699.4,1168.9 1708.4,1163.2 1722.0,1162.1 1735.6,1176.8 1749.1,1174.5 1765.0,1167.8 1777.4,1153.1 1805.6,1131.6 1819.2,1125.9 1833.9,1123.7 1833.9,854.7 1805.6,862.6 1792.1,859.2 1778.5,847.3 1760.4,843.9 1735.6,831.5"/>
<polygon points="1834.0,655.5 1830.5,661.0 1834.0,666.5"/>
<polygon points="531.6,171.5 542.9,158.4 554.2,171.5 542.9,189.6"/>
<polygon points="712.4,313.9 723.8,296.3 735.0,313.9 723.8,332.0"/>
<polygon points="796.1,294.0 807.4,278.2 818.7,294.0 807.4,311.0"/>
<polyline points="650.5,156.3 640.0,159.7 627.4,171.8 640.0,186.7 650.5,186.7"/>
</g>
<rect x="279.6" y="131.2" width="1665.4" height="1425.3" fill="none" stroke="#262626" stroke-width="1.5"/>
<line x1="417.7" y1="1556.5" x2="417.7" y2="1539.5" stroke="#262626" stroke-width="1.5"/>
<line x1="417.7" y1="131.2" x2="417.7" y2="148.2" stroke="#262626" stroke-width="1.5"/>
<text x="417.7" y="1643" text-anchor="middle" class="tk">0</text>
<line x1="695.4" y1="1556.5" x2="695.4" y2="1539.5" stroke="#262626" stroke-width="1.5"/>
<line x1="695.4" y1="131.2" x2="695.4" y2="148.2" stroke="#262626" stroke-width="1.5"/>
<text x="695.4" y="1643" text-anchor="middle" class="tk">2</text>
<line x1="973.1" y1="1556.5" x2="973.1" y2="1539.5" stroke="#262626" stroke-width="1.5"/>
<line x1="973.1" y1="131.2" x2="973.1" y2="148.2" stroke="#262626" stroke-width="1.5"/>
<text x="973.1" y="1643" text-anchor="middle" class="tk">4</text>
<line x1="1250.8" y1="1556.5" x2="1250.8" y2="1539.5" stroke="#262626" stroke-width="1.5"/>
<line x1="1250.8" y1="131.2" x2="1250.8" y2="148.2" stroke="#262626" stroke-width="1.5"/>
<text x="1250.8" y="1643" text-anchor="middle" class="tk">6</text>
<line x1="1528.5" y1="1556.5" x2="1528.5" y2="1539.5" stroke="#262626" stroke-width="1.5"/>
<line x1="1528.5" y1="131.2" x2="1528.5" y2="148.2" stroke="#262626" stroke-width="1.5"/>
<text x="1528.5" y="1643" text-anchor="middle" class="tk">8</text>
<line x1="1806.2" y1="1556.5" x2="1806.2" y2="1539.5" stroke="#262626" stroke-width="1.5"/>
<line x1="1806.2" y1="131.2" x2="1806.2" y2="148.2" stroke="#262626" stroke-width="1.5"/>
<text x="1806.2" y="1643" text-anchor="middle" class="tk">10</text>
<text x="257.5" y="1582.0" text-anchor="end" class="tk">80</text>
<line x1="279.6" y1="1352.9" x2="296.6" y2="1352.9" stroke="#262626" stroke-width="1.5"/>
<line x1="1945.0" y1="1352.9" x2="1928.0" y2="1352.9" stroke="#262626" stroke-width="1.5"/>
<text x="257.5" y="1378.4" text-anchor="end" class="tk">85</text>
<line x1="279.6" y1="1149.3" x2="296.6" y2="1149.3" stroke="#262626" stroke-width="1.5"/>
<line x1="1945.0" y1="1149.3" x2="1928.0" y2="1149.3" stroke="#262626" stroke-width="1.5"/>
<text x="257.5" y="1174.8" text-anchor="end" class="tk">90</text>
<line x1="279.6" y1="945.7" x2="296.6" y2="945.7" stroke="#262626" stroke-width="1.5"/>
<line x1="1945.0" y1="945.7" x2="1928.0" y2="945.7" stroke="#262626" stroke-width="1.5"/>
<text x="257.5" y="971.2" text-anchor="end" class="tk">95</text>
<line x1="279.6" y1="742.0" x2="296.6" y2="742.0" stroke="#262626" stroke-width="1.5"/>
<line x1="1945.0" y1="742.0" x2="1928.0" y2="742.0" stroke="#262626" stroke-width="1.5"/>
<text x="257.5" y="767.5" text-anchor="end" class="tk">100</text>
<line x1="279.6" y1="538.4" x2="296.6" y2="538.4" stroke="#262626" stroke-width="1.5"/>
<line x1="1945.0" y1="538.4" x2="1928.0" y2="538.4" stroke="#262626" stroke-width="1.5"/>
<text x="257.5" y="563.9" text-anchor="end" class="tk">105</text>
<line x1="279.6" y1="334.8" x2="296.6" y2="334.8" stroke="#262626" stroke-width="1.5"/>
<line x1="1945.0" y1="334.8" x2="1928.0" y2="334.8" stroke="#262626" stroke-width="1.5"/>
<text x="257.5" y="360.3" text-anchor="end" class="tk">110</text>
<text x="257.5" y="156.7" text-anchor="end" class="tk">115</text>
<text transform="translate(954.15,1732.0) scale(0.942,1)" x="0" y="0" class="lb" style="font-size:76px">UT (Hour)</text>
<text transform="translate(116.4,1049.9) rotate(-90) scale(0.980,1)" x="0" y="0" class="lb">Altitude (km)</text>
<text transform="translate(532.5,110.9) scale(0.9846,1)" class="tt">Na Mixing Ratio (10</text>
<text transform="translate(1211.9,75.6) scale(1.0217,1)" class="tt" style="font-size:61px">-10</text>
<text transform="translate(1319.5,110.9)" class="tt">)</text>
<text transform="translate(1361.55,110.9) scale(0.9848,1)" class="tt">20190404</text>
<rect x="1979.3" y="1461.48" width="66.40" height="95.62" fill="#0000bf"/>
<rect x="1979.3" y="1366.46" width="66.40" height="95.62" fill="#0000ff"/>
<rect x="1979.3" y="1271.44" width="66.40" height="95.62" fill="#0040ff"/>
<rect x="1979.3" y="1176.42" width="66.40" height="95.62" fill="#0080ff"/>
<rect x="1979.3" y="1081.40" width="66.40" height="95.62" fill="#00bfff"/>
<rect x="1979.3" y="986.38" width="66.40" height="95.62" fill="#00ffff"/>
<rect x="1979.3" y="891.36" width="66.40" height="95.62" fill="#40ffbf"/>
<rect x="1979.3" y="796.34" width="66.40" height="95.62" fill="#80ff80"/>
<rect x="1979.3" y="701.32" width="66.40" height="95.62" fill="#bfff40"/>
<rect x="1979.3" y="606.30" width="66.40" height="95.62" fill="#ffff00"/>
<rect x="1979.3" y="511.28" width="66.40" height="95.62" fill="#ffbf00"/>
<rect x="1979.3" y="416.26" width="66.40" height="95.62" fill="#ff8000"/>
<rect x="1979.3" y="321.24" width="66.40" height="95.62" fill="#ff4000"/>
<rect x="1979.3" y="226.22" width="66.40" height="95.62" fill="#ff0000"/>
<rect x="1979.3" y="131.20" width="66.40" height="95.62" fill="#bf0000"/>
<rect x="1979.3" y="131.2" width="66.40" height="1425.3" fill="none" stroke="#262626" stroke-width="1.5"/>
<line x1="2045.7" y1="1461.5" x2="2031.7" y2="1461.5" stroke="#262626" stroke-width="1.5"/>
<text x="2065.5" y="1486.5" class="cb">0.01</text>
<line x1="2045.7" y1="1366.5" x2="2031.7" y2="1366.5" stroke="#262626" stroke-width="1.5"/>
<text x="2065.5" y="1391.5" class="cb">0.1</text>
<line x1="2045.7" y1="1271.4" x2="2031.7" y2="1271.4" stroke="#262626" stroke-width="1.5"/>
<text x="2065.5" y="1296.4" class="cb">0.2</text>
<line x1="2045.7" y1="1176.4" x2="2031.7" y2="1176.4" stroke="#262626" stroke-width="1.5"/>
<text x="2065.5" y="1201.4" class="cb">0.4</text>
<line x1="2045.7" y1="1081.4" x2="2031.7" y2="1081.4" stroke="#262626" stroke-width="1.5"/>
<text x="2065.5" y="1106.4" class="cb">0.6</text>
<line x1="2045.7" y1="986.4" x2="2031.7" y2="986.4" stroke="#262626" stroke-width="1.5"/>
<text x="2065.5" y="1011.4" class="cb">0.8</text>
<line x1="2045.7" y1="891.4" x2="2031.7" y2="891.4" stroke="#262626" stroke-width="1.5"/>
<text x="2065.5" y="916.4" class="cb">1</text>
<line x1="2045.7" y1="796.3" x2="2031.7" y2="796.3" stroke="#262626" stroke-width="1.5"/>
<text x="2065.5" y="821.3" class="cb">1.2</text>
<line x1="2045.7" y1="701.3" x2="2031.7" y2="701.3" stroke="#262626" stroke-width="1.5"/>
<text x="2065.5" y="726.3" class="cb">1.4</text>
<line x1="2045.7" y1="606.3" x2="2031.7" y2="606.3" stroke="#262626" stroke-width="1.5"/>
<text x="2065.5" y="631.3" class="cb">1.6</text>
<line x1="2045.7" y1="511.3" x2="2031.7" y2="511.3" stroke="#262626" stroke-width="1.5"/>
<text x="2065.5" y="536.3" class="cb">2</text>
<line x1="2045.7" y1="416.3" x2="2031.7" y2="416.3" stroke="#262626" stroke-width="1.5"/>
<text x="2065.5" y="441.3" class="cb">3</text>
<line x1="2045.7" y1="321.2" x2="2031.7" y2="321.2" stroke="#262626" stroke-width="1.5"/>
<text x="2065.5" y="346.2" class="cb">4</text>
<line x1="2045.7" y1="226.2" x2="2031.7" y2="226.2" stroke="#262626" stroke-width="1.5"/>
<text x="2065.5" y="251.2" class="cb">6</text>
</svg>
</body></html>
